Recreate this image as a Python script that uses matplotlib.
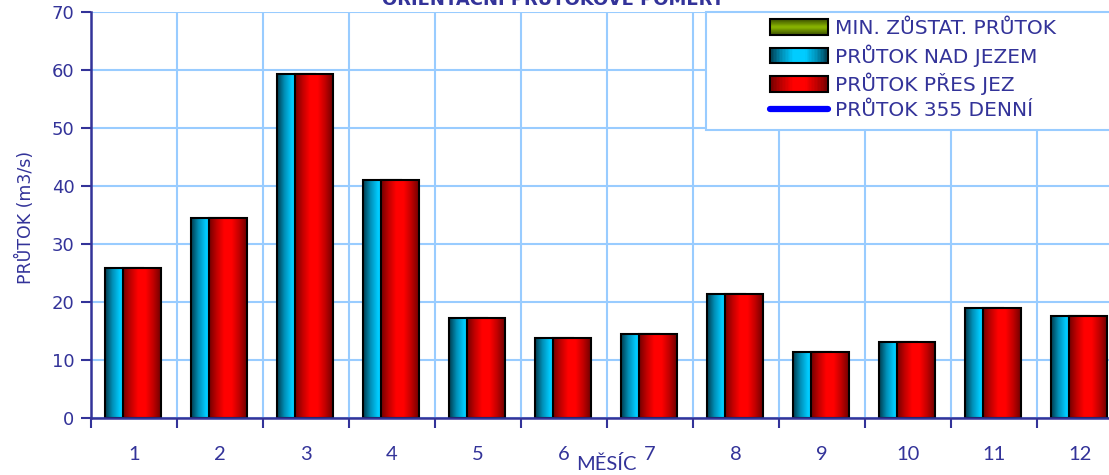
import numpy as np
import matplotlib
matplotlib.use("Agg")
import matplotlib.pyplot as plt
from matplotlib.patches import Rectangle
from matplotlib.lines import Line2D
from matplotlib.legend_handler import HandlerBase
from matplotlib.colors import LinearSegmentedColormap

# data
mesic = [1, 2, 3, 4, 5, 6, 7, 8, 9, 10, 11, 12]
prutok_nad_jezem = [25.9, 34.5, 59.3, 41.0, 17.2, 13.8, 14.5, 21.4, 11.4, 13.1, 19.0, 17.6]
prutok_pres_jez = [25.9, 34.5, 59.3, 41.0, 17.2, 13.8, 14.5, 21.4, 11.4, 13.1, 19.0, 17.6]
legend_labels = ["MIN. ZŮSTAT. PRŮTOK", "PRŮTOK NAD JEZEM", "PRŮTOK PŘES JEZ", "PRŮTOK 355 DENNÍ"]

navy = "#333399"
grid_col = "#99ccff"

cmap_cyan = LinearSegmentedColormap.from_list("cy", ["#003a4c", "#0090b8", "#00ccff", "#00ccff", "#0090b8", "#003a4c"])
cmap_red = LinearSegmentedColormap.from_list("rd", ["#700000", "#c00000", "#ff0000", "#ff0000", "#c00000", "#700000"])
cmap_green = LinearSegmentedColormap.from_list("gr", ["#3d5200", "#8cb800", "#3d5200"])


class GradHandler(HandlerBase):
    def __init__(self, cmap, vertical=False):
        super().__init__()
        self.cmap = cmap
        self.vertical = vertical

    def create_artists(self, legend, orig_handle, xdescent, ydescent, width, height, fontsize, trans):
        n = 40
        arts = []
        for k in range(n):
            c = self.cmap((k + 0.5) / n)
            if self.vertical:
                r = Rectangle((-xdescent, -ydescent + k * height / n), width, height / n * 1.05,
                              fc=c, ec="none", transform=trans, antialiased=False)
            else:
                r = Rectangle((-xdescent + k * width / n, -ydescent), width / n * 1.05, height,
                              fc=c, ec="none", transform=trans, antialiased=False)
            arts.append(r)
        arts.append(Rectangle((-xdescent, -ydescent), width, height, fc="none", ec="black",
                              lw=1.5, transform=trans))
        return arts


W, H = 1109, 475
fig = plt.figure(figsize=(W / 100, H / 100), dpi=100)
ax = fig.add_axes([91 / W, 57 / H, 1032 / W, 406 / H])

x = np.array(mesic)
bw = 0.44
grad = np.linspace(0, 1, 256).reshape(1, -1)

bars_c = ax.bar(x - 0.116, prutok_nad_jezem, width=bw, facecolor="none", edgecolor="black", lw=1.5, zorder=3)
bars_r = ax.bar(x + 0.093, prutok_pres_jez, width=bw, facecolor="none", edgecolor="black", lw=1.5, zorder=5)
for bars, cm, z in [(bars_c, cmap_cyan, 2.5), (bars_r, cmap_red, 4.5)]:
    for b in bars:
        x0, w, h = b.get_x(), b.get_width(), b.get_height()
        ax.imshow(grad, cmap=cm, extent=[x0, x0 + w, 0, h], aspect="auto", zorder=z, interpolation="bilinear")

ax.set_xlim(0.5, 12.5)
ax.set_ylim(0, 70)
ax.set_yticks(np.arange(0, 71, 10))
ax.set_xticks(np.arange(0.5, 12.6, 1))
ax.set_xticklabels([])
ax.set_xticks(x, minor=True)
ax.set_xticklabels([str(m) for m in mesic], minor=True)
ax.tick_params(axis="x", which="major", length=7, width=1.5, color=navy, direction="out")
ax.tick_params(axis="x", which="minor", length=0, pad=20, labelsize=14.5, labelcolor=navy)
ax.tick_params(axis="y", length=7, width=1.5, color=navy, pad=5, labelsize=13, labelcolor=navy)
for lab in ax.get_xticklabels(minor=True):
    lab.set_family("Lato")
ax.grid(True, which="major", color=grid_col, lw=1.5, zorder=0)
ax.set_axisbelow(True)
for s in ["top", "right"]:
    ax.spines[s].set_visible(False)
for s in ["left", "bottom"]:
    ax.spines[s].set_color(navy)
    ax.spines[s].set_linewidth(1.8)
    ax.spines[s].set_zorder(6)

fig.text(553 / W, 1.0, "ORIENTAČNÍ PRŮTOKOVÉ POMĚRY", ha="center", va="center",
         fontsize=13, fontweight="bold", color=navy)
fig.text(606 / W, 1 - 464 / H, "MĚSÍC", ha="center", va="center", fontsize=14.5,
         color=navy, family="Lato")
fig.text(25 / W, 1 - 217 / H, "PRŮTOK (m3/s)", ha="center", va="center", rotation=90,
         fontsize=12.5, color=navy)

# legend box
fig.patches.append(Rectangle((706 / W, 1 - 130 / H), 420 / W, 118 / H, transform=fig.transFigure,
                             fc="white", ec=grid_col, lw=1.5, zorder=1))
h_green = Rectangle((0, 0), 1, 1)
h_cyan = Rectangle((0, 0), 1, 1)
h_red = Rectangle((0, 0), 1, 1)
h_line = Line2D([0], [0], color="#0000ff", lw=4.5, solid_capstyle="round")
leg = fig.legend([h_green, h_cyan, h_red, h_line], legend_labels,
                 loc="upper left", bbox_to_anchor=(770 / W, 1 - 19 / H),
                 frameon=False, fontsize=14.5, handlelength=2.9, handleheight=0.8,
                 handletextpad=0.35, labelspacing=0.3, borderaxespad=0, borderpad=0,
                 handler_map={h_green: GradHandler(cmap_green, vertical=True),
                              h_cyan: GradHandler(cmap_cyan),
                              h_red: GradHandler(cmap_red)})
for t in leg.get_texts():
    t.set_color(navy)

fig.savefig("out.png", dpi=100)
